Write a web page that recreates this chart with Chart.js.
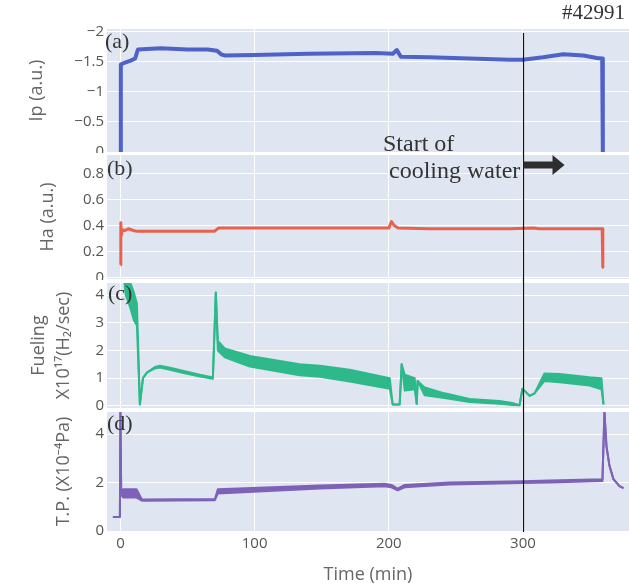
<!DOCTYPE html>
<html>
<head>
<meta charset="utf-8">
<script src="https://cdn.jsdelivr.net/npm/chart.js@4.4.0/dist/chart.umd.min.js"></script>
<style>
  html, body { margin: 0; padding: 0; background: #fff; }
  #wrap { position: relative; width: 629px; height: 587px; overflow: hidden; }
  #wrap canvas { position: absolute; left: 0; }
  .note { position: absolute; font-family: "Liberation Serif", "Times New Roman", serif; color: #333; white-space: nowrap; line-height: 1; }
</style>
</head>
<body>
<div id="wrap">
  <canvas id="ipChart" width="629" height="153" style="top:0"></canvas>
  <canvas id="haChart" width="629" height="127" style="top:153px"></canvas>
  <canvas id="fuelChart" width="629" height="130" style="top:280px"></canvas>
  <canvas id="tpChart" width="629" height="177" style="top:410px"></canvas>
  <div class="note" style="left:562px;top:2px;font-size:21px">#42991</div>
  <div class="note" style="left:105px;top:30px;font-size:22px">(a)</div>
  <div class="note" style="left:107px;top:157px;font-size:22px">(b)</div>
  <div class="note" style="left:108px;top:282px;font-size:22px">(c)</div>
  <div class="note" style="left:107px;top:412px;font-size:22px">(d)</div>
  <div class="note" style="left:383px;top:131px;font-size:24px">Start of</div>
  <div class="note" style="left:389px;top:158px;font-size:24px">cooling water</div>
</div>
<script>
// shared time axis
const timeTicks = [0, 100, 200, 300];
const markTime = 300;

// (a) plasma current
const ipTime = [0, 0.3, 3, 8, 11, 13, 30, 50, 65, 72, 75, 78, 100, 140, 190, 203, 206, 209, 230, 260, 290, 300, 315, 330, 345, 355, 359, 359.5];
const ipValue = [0, -1.45, -1.48, -1.52, -1.55, -1.7, -1.72, -1.7, -1.7, -1.68, -1.62, -1.6, -1.61, -1.63, -1.64, -1.63, -1.69, -1.58, -1.57, -1.55, -1.53, -1.53, -1.57, -1.62, -1.6, -1.56, -1.55, 0];
const ipTicks = [-2, -1.5, -1, -0.5, 0];

// (b) H-alpha
const haTime = [0, 0.3, 0.6, 1, 3, 6, 10, 13, 30, 60, 70, 73, 100, 150, 200, 202, 204, 207, 230, 260, 290, 308, 312, 330, 359, 359.5];
const haValue = [0.1, 0.42, 0.33, 0.37, 0.36, 0.375, 0.36, 0.355, 0.355, 0.355, 0.355, 0.38, 0.38, 0.38, 0.38, 0.43, 0.4, 0.38, 0.375, 0.375, 0.375, 0.38, 0.375, 0.375, 0.375, 0.08];
const haTicks = [0, 0.2, 0.4, 0.6, 0.8];

// (c) fueling rate, upper and lower edge of the noisy band
const fuelTime = [2.6, 4, 7, 10, 12.3, 14.5, 16.8, 19.7, 25.7, 29.4, 36.9, 48, 59.2, 68.9, 71.1, 72.6, 77.8, 96.4, 133.6, 148.5, 170.9, 200.7, 202.9, 208.1, 209.6, 211.9, 219.3, 220.8, 221.5, 226.7, 241.6, 260.2, 282.5, 292.2, 297.4, 299.6, 304.9, 308.6, 316, 327.2, 349.6, 358.5, 360];
const fuelHigh = [4.6, 4.7, 4.5, 4.1, 3.7, 0.05, 1.0, 1.2, 1.4, 1.45, 1.38, 1.25, 1.12, 1.02, 4.1, 2.35, 2.07, 1.8, 1.5, 1.45, 1.3, 1.0, 0.05, 0.05, 1.5, 1.12, 1.0, 0.07, 0.9, 0.66, 0.45, 0.25, 0.17, 0.1, 0.02, 0.62, 0.36, 0.45, 1.17, 1.15, 1.03, 1.0, 0.05];
const fuelLow = [4.6, 4.0, 3.6, 3.1, 2.9, 0.05, 1.0, 1.2, 1.35, 1.38, 1.3, 1.18, 1.06, 0.98, 4.1, 2.0, 1.75, 1.42, 1.1, 1.05, 0.88, 0.62, 0.05, 0.05, 1.5, 0.55, 0.6, 0.07, 0.9, 0.38, 0.28, 0.14, 0.07, 0.03, 0.02, 0.62, 0.36, 0.45, 0.9, 0.85, 0.73, 0.6, 0.05];
const fuelTicks = [0, 1, 2, 3, 4];

// (d) total pressure
const tpTime = [-5.6, -0.4, 0, 0.6, 2, 12, 16, 70.4, 72.6, 148.5, 196.9, 202, 206.6, 211.8, 245.3, 299.6, 319.7, 359.2, 360.7, 362.2, 364.4, 367.4, 371.9, 374.9];
const tpHigh = [0.58, 0.58, 4.9, 1.5, 1.72, 1.72, 1.3, 1.32, 1.72, 1.88, 1.95, 1.9, 1.75, 1.9, 2.0, 2.05, 2.08, 2.14, 4.9, 3.5, 2.7, 2.14, 1.85, 1.77];
const tpLow = [0.58, 0.58, 4.9, 1.5, 1.38, 1.38, 1.25, 1.27, 1.55, 1.75, 1.85, 1.8, 1.68, 1.8, 1.92, 1.98, 2.0, 2.06, 4.9, 3.5, 2.7, 2.14, 1.85, 1.77];
const tpTicks = [0, 2, 4];

const PLOT_LEFT = 107;
const BG = '#e0e6f1';
const SANS = '"Open Sans", "Noto Sans", sans-serif';

function pts(xs, ys) {
    return xs.map((x, i) => ({x: x, y: ys[i]}));
}

function line(xs, ys, color, width) {
    return {data: pts(xs, ys), borderColor: color, borderWidth: width, pointRadius: 0, fill: false, borderJoinStyle: 'round'};
}

function band(xs, hi, lo, color, width) {
    const top = line(xs, hi, color, width);
    const bottom = line(xs, lo, color, width);
    bottom.fill = '-1';
    bottom.backgroundColor = color;
    return [top, bottom];
}

const plotBg = {
    id: 'plotBg',
    beforeDraw(chart) {
        const {ctx, chartArea: a} = chart;
        ctx.save();
        ctx.fillStyle = BG;
        ctx.fillRect(a.left, a.top, a.width, a.height);
        ctx.restore();
    }
};

const marker = {
    id: 'marker',
    afterDatasetsDraw(chart, args, opts) {
        const {ctx, chartArea: a} = chart;
        const x = Math.round(chart.scales.x.getPixelForValue(markTime)) + 0.5;
        const y0 = opts.fromTop ? 0 : a.top + 4;
        const y1 = opts.toBottom ? chart.height : a.bottom + 1;
        ctx.save();
        ctx.strokeStyle = '#111';
        ctx.lineWidth = 1.2;
        ctx.beginPath();
        ctx.moveTo(x, y0);
        ctx.lineTo(x, y1);
        ctx.stroke();
        if (opts.arrow) {
            const y = a.top + 10;
            ctx.fillStyle = '#2e2e2e';
            ctx.fillRect(x, y - 3.5, 30, 7);
            ctx.beginPath();
            ctx.moveTo(x + 29, y - 10);
            ctx.lineTo(x + 41, y);
            ctx.lineTo(x + 29, y + 10);
            ctx.closePath();
            ctx.fill();
        }
        ctx.restore();
    }
};

function noEdgePadding(s) {
    s.paddingTop = 0;
    s.paddingBottom = 0;
    s.paddingLeft = 0;
    s.paddingRight = 0;
}

function makePanel(id, p) {
    const tickFont = {family: SANS, size: 15};
    new Chart(document.getElementById(id), {
        type: 'line',
        data: {datasets: p.datasets},
        options: {
            responsive: false,
            animation: false,
            layout: {padding: {top: p.padTop, bottom: p.padBottom, left: 0, right: 0}},
            plugins: {
                legend: {display: false},
                tooltip: {enabled: false},
                marker: p.marker
            },
            scales: {
                x: {
                    type: 'linear',
                    min: -10,
                    max: 379,
                    afterBuildTicks: s => { s.ticks = timeTicks.map(v => ({value: v})); },
                    afterFit: s => { s.height = p.showX ? 56 : 0; noEdgePadding(s); },
                    grid: {color: '#ffffff', lineWidth: 1, drawTicks: false},
                    border: {display: false},
                    ticks: {display: p.showX, padding: 4, color: '#555', font: tickFont},
                    title: {
                        display: p.showX,
                        text: 'Time (min)',
                        color: '#666',
                        font: {family: SANS, size: 18},
                        padding: {top: 0, bottom: 1}
                    }
                },
                y: {
                    type: 'linear',
                    min: p.min,
                    max: p.max,
                    reverse: !!p.reverse,
                    afterBuildTicks: s => { s.ticks = p.ticks.map(v => ({value: v})); },
                    afterFit: s => { s.width = PLOT_LEFT; noEdgePadding(s); },
                    grid: {color: '#ffffff', lineWidth: 1, drawTicks: false},
                    border: {display: false},
                    ticks: {
                        padding: 3,
                        color: '#555',
                        font: tickFont,
                        callback: v => String(v).replace('-', '\u2212')
                    },
                    title: {
                        display: true,
                        text: p.title,
                        color: '#666',
                        font: {family: SANS, size: 18, lineHeight: p.titleLine || 1.2},
                        padding: {top: p.titlePad, bottom: 0}
                    }
                }
            }
        },
        plugins: [plotBg, marker]
    });
}

makePanel('ipChart', {
    datasets: [line(ipTime, ipValue, '#4f62c8', 4)],
    min: -2.04, max: 0, reverse: true, ticks: ipTicks,
    title: 'Ip (a.u.)', titlePad: 26,
    padTop: 29, padBottom: 1,
    marker: {fromTop: false, toBottom: true}
});

makePanel('haChart', {
    datasets: [line(haTime, haValue, '#e8614b', 3)],
    min: -0.01, max: 0.94, ticks: haTicks,
    title: 'Ha (a.u.)', titlePad: 37,
    padTop: 2, padBottom: 1,
    marker: {fromTop: true, toBottom: true, arrow: true}
});

makePanel('fuelChart', {
    datasets: band(fuelTime, fuelHigh, fuelLow, '#2fb98b', 2),
    min: -0.08, max: 4.44, ticks: fuelTicks,
    title: ['Fueling', 'X10\u00b9\u2077(H\u2082/sec)'], titlePad: 27, titleLine: 1.35,
    padTop: 3, padBottom: 2,
    marker: {fromTop: true, toBottom: true}
});

makePanel('tpChart', {
    datasets: band(tpTime, tpHigh, tpLow, '#7d62b8', 2),
    min: 0, max: 4.91, ticks: tpTicks,
    title: 'T.P. (X10\u207b\u2074Pa)', titlePad: 53,
    padTop: 2, padBottom: 0, showX: true,
    marker: {fromTop: true, toBottom: false}
});
</script>
</body>
</html>
